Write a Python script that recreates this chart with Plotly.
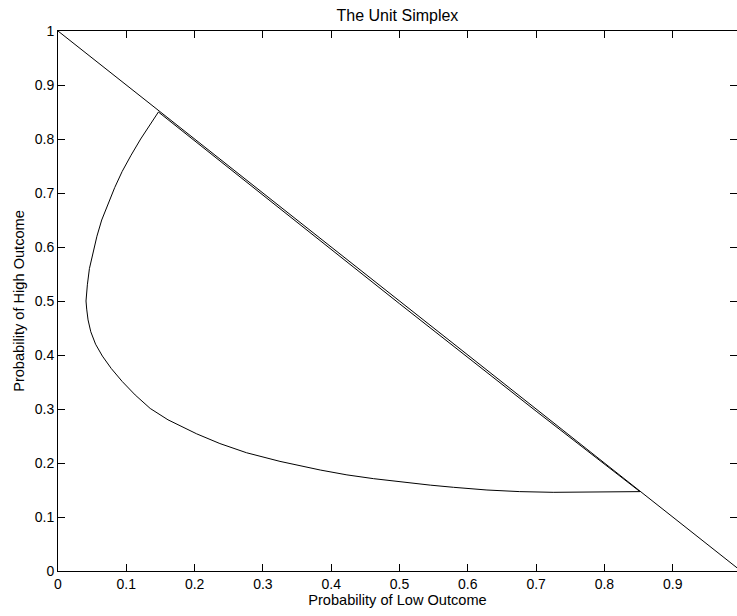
import plotly.graph_objects as go

# Simplex boundary (p_low + p_high = 1)
simplex_x = [0.0, 1.0]
simplex_y = [1.0, 0.0]

# Closed curve inside the simplex
curve_x = [0.147, 0.135, 0.121, 0.107, 0.094, 0.083, 0.073, 0.064, 0.057, 0.051, 0.046, 0.043, 0.041,
           0.042, 0.044, 0.048, 0.055, 0.065, 0.078, 0.094, 0.113, 0.135, 0.161, 0.203,
           0.237, 0.276, 0.325, 0.384, 0.423, 0.462, 0.501, 0.545, 0.579,
           0.628, 0.676, 0.725, 0.852,
           0.700, 0.500, 0.300, 0.147]
curve_y = [0.850, 0.828, 0.800, 0.770, 0.740, 0.710, 0.680, 0.650, 0.620, 0.590, 0.560, 0.530, 0.500,
           0.485, 0.465, 0.443, 0.420, 0.398, 0.375, 0.351, 0.326, 0.301, 0.280, 0.254,
           0.236, 0.219, 0.203, 0.187, 0.178, 0.171, 0.165, 0.159, 0.155,
           0.150, 0.147, 0.1457, 0.147,
           0.296, 0.495, 0.696, 0.850]

x_ticks = [0, 0.1, 0.2, 0.3, 0.4, 0.5, 0.6, 0.7, 0.8, 0.9]
y_ticks = [0, 0.1, 0.2, 0.3, 0.4, 0.5, 0.6, 0.7, 0.8, 0.9, 1]
x_ticklabels = ["0", "0.1", "0.2", "0.3", "0.4", "0.5", "0.6", "0.7", "0.8", "0.9"]
y_ticklabels = ["0", "0.1", "0.2", "0.3", "0.4", "0.5", "0.6", "0.7", "0.8", "0.9", "1"]

FONT = "Liberation Sans, Arial, Helvetica, sans-serif"

fig = go.Figure()
fig.add_trace(go.Scatter(x=simplex_x, y=simplex_y, mode="lines",
                         line=dict(color="black", width=1), showlegend=False,
                         hoverinfo="skip"))
fig.add_trace(go.Scatter(x=curve_x, y=curve_y, mode="lines",
                         line=dict(color="black", width=1),
                         showlegend=False))
# invisible trace for right-side tick axis
fig.add_trace(go.Scatter(x=[0], y=[0], yaxis="y2", mode="markers",
                         marker=dict(opacity=0), showlegend=False, hoverinfo="skip"))

fig.update_layout(
    width=737, height=616,
    margin=dict(l=58, r=0, t=31, b=45),
    paper_bgcolor="white", plot_bgcolor="white",
    font=dict(family=FONT, size=14, color="black"),
    title=dict(text="The Unit Simplex", x=0.5393, xanchor="center",
               y=0.984, yanchor="top", font=dict(size=16, family=FONT)),
    xaxis=dict(range=[0, 0.9941], tickvals=x_ticks, ticktext=x_ticklabels,
               ticks="inside", ticklen=7, tickcolor="black", tickwidth=1,
               showline=True, linecolor="black", linewidth=1, mirror="ticks",
               showgrid=False, zeroline=False,
               title=dict(text="Probability of Low Outcome", standoff=2,
                          font=dict(size=14.6)),
               tickfont=dict(size=14)),
    yaxis=dict(range=[0, 1], tickvals=y_ticks, ticktext=y_ticklabels,
               ticks="inside", ticklen=7, tickcolor="black", tickwidth=1,
               showline=True, linecolor="black", linewidth=1, mirror=False,
               showgrid=False, zeroline=False,
               title=dict(text="Probability of High Outcome", standoff=6,
                          font=dict(size=14.6)),
               tickfont=dict(size=14)),
    yaxis2=dict(range=[0, 1], tickvals=y_ticks, overlaying="y", side="right",
                ticks="inside", ticklen=7, tickcolor="black", tickwidth=1,
                showline=False, showticklabels=False, showgrid=False,
                zeroline=False),
)

fig.write_html("out.html")
